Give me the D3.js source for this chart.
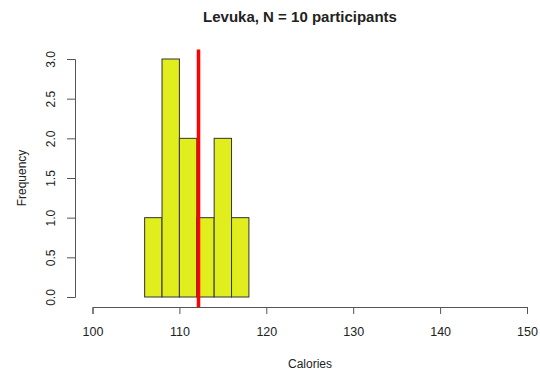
<!DOCTYPE html>
<html>
<head>
<meta charset="utf-8">
<script src="https://cdn.jsdelivr.net/npm/d3@7"></script>
<style>
  body { margin: 0; background: #fff; }
  text { font-family: "Liberation Sans", Arial, sans-serif; fill: #222; }
</style>
</head>
<body>
<svg id="drawing_region"></svg>
<script>
// histogram bins (Calories) and counts
var binStarts = [106, 108, 110, 112, 114, 116];
var binWidth = 2;
var counts = [1, 3, 2, 1, 2, 1];
var meanValue = 112.2;
var xTicks = [100, 110, 120, 130, 140, 150];
var yTicks = [0, 0.5, 1, 1.5, 2, 2.5, 3];

var width = 540, height = 373;
var svg = d3.select('#drawing_region')
    .attr('width', width)
    .attr('height', height);

var x = d3.scaleLinear().domain([100, 150]).range([92.5, 527]);
var y = d3.scaleLinear().domain([0, 3]).range([297, 59]);

// bars
svg.selectAll('rect.bar')
    .data(binStarts)
    .enter()
    .append('rect')
    .attr('class', 'bar')
    .attr('x', d => x(d))
    .attr('width', d => x(d + binWidth) - x(d))
    .attr('y', (d, i) => y(counts[i]))
    .attr('height', (d, i) => y(0) - y(counts[i]))
    .attr('fill', '#dfee1c')
    .attr('stroke', '#333')
    .attr('stroke-width', 1);

// mean line
svg.append('line')
    .attr('x1', x(meanValue)).attr('x2', x(meanValue))
    .attr('y1', y(3.12)).attr('y2', 307)
    .attr('stroke', '#ff0000')
    .attr('stroke-width', 3.5);

// x axis
var xAxis = svg.append('g')
    .attr('transform', 'translate(0,307)')
    .call(d3.axisBottom(x).tickValues(xTicks).tickSize(7));
xAxis.select('.domain').attr('stroke', '#555');
xAxis.selectAll('line').attr('stroke', '#555');
xAxis.selectAll('text')
    .attr('font-size', 12.5)
    .style('fill', '#222')
    .attr('y', 29).attr('dy', 0);

// y axis
var yAxis = svg.append('g')
    .attr('transform', 'translate(75,0)')
    .call(d3.axisLeft(y).tickValues(yTicks).tickSize(8).tickFormat(d3.format('.1f')));
yAxis.select('.domain').attr('stroke', '#555');
yAxis.selectAll('line').attr('stroke', '#555');
yAxis.selectAll('text')
    .attr('font-size', 12)
    .style('fill', '#222')
    .attr('x', 0).attr('dy', 0)
    .attr('transform', 'translate(-20,0) rotate(-90)')
    .style('text-anchor', 'middle');

// titles
svg.append('text')
    .attr('x', 300).attr('y', 21.5)
    .style('text-anchor', 'middle')
    .attr('font-size', 15)
    .attr('font-weight', 'bold')
    .text('Levuka, N = 10 participants');

svg.append('text')
    .attr('x', 310).attr('y', 368)
    .style('text-anchor', 'middle')
    .attr('font-size', 12)
    .text('Calories');

svg.append('text')
    .attr('transform', 'translate(26,178) rotate(-90)')
    .style('text-anchor', 'middle')
    .attr('font-size', 12)
    .text('Frequency');
</script>
</body>
</html>
